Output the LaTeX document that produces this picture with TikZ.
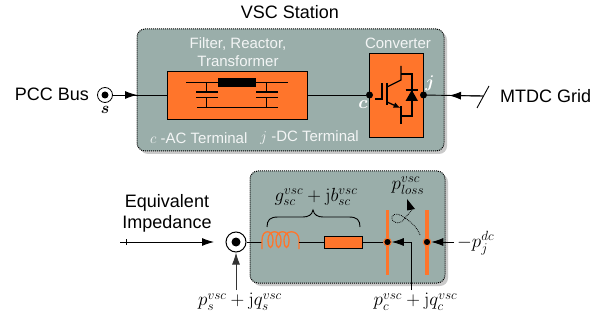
\RequirePackage{fix-cm}
\documentclass[tikz,border=0pt]{standalone}
\usepackage[no-math]{fontspec}
\setmainfont{Liberation Sans}
\usepackage{amsmath}
\usetikzlibrary{arrows.meta,shadows,calc}
\definecolor{panel}{HTML}{9AAEAA}
\definecolor{orng}{HTML}{FF752B}
\tikzset{
  x=1pt,y=-1pt,
  panelbox/.style={draw=black,densely dotted,line width=1pt,fill=panel,rounded corners=8pt,
    drop shadow={shadow xshift=3pt,shadow yshift=-3pt,opacity=.35,fill=black!60},inner sep=0},
  orangebox/.style={draw=black,line width=.9pt,fill=orng,inner sep=0},
  wire/.style={line width=.9pt,black},
  thick wire/.style={line width=1.3pt,black},
  arr/.style={-{Latex[length=12pt,width=8pt]},line width=.9pt},
  lab/.style={font=\fontsize{18}{21}\selectfont,text=black,inner sep=0,align=center},
  wlab/.style={font=\fontsize{15}{18}\selectfont,text=white!88!panel,inner sep=0,align=center},
  mathlab/.style={font=\fontsize{19}{21}\selectfont,inner sep=0},
  dotn/.style={circle,fill=black,inner sep=0,minimum size=7pt},
  busnode/.style={circle,fill=black,draw=orng,line width=1pt,inner sep=0,minimum size=7.5pt},
  busbar/.style={inner sep=0,minimum width=3.5pt,minimum height=65pt,fill=orng},
}
\begin{document}
\begin{tikzpicture}
\useasboundingbox (0,0) rectangle (612,320);
% top panel
\node[panelbox,minimum width=307pt,minimum height=122pt] (top) at (290.5,90) {};
\node[lab] (title) at (290,12) {VSC Station};
\node[orangebox,minimum width=140pt,minimum height=48pt] (filter) at (237.5,95) {};
\node[orangebox,minimum width=54pt,minimum height=84pt] (conv) at (396.5,95) {};
\node[wlab] (filtertxt) at (238,52) {Filter, Reactor,\\Transformer};
\node[wlab] (convtxt) at (398,43) {Converter};
\node[wlab,anchor=west] (termc) at (150,138) {$c$ -AC Terminal};
\node[wlab,anchor=west] (termj) at (260,138) {$j$ -DC Terminal};
% filter innards
\coordinate (fa) at (186,82.5); \coordinate (fb) at (288,82.5);
\draw[wire] (fa) -- (fb);
\node[fill=black,minimum width=38pt,minimum height=8.5pt,inner sep=0] (res) at (237,82.5) {};
\draw[wire] (206.7,82.5) -- (206.7,92) (206.7,98) -- (206.7,107.5);
\draw[wire] (266.7,82.5) -- (266.7,92) (266.7,98) -- (266.7,107.5);
\draw[thick wire] (196,92) -- (217.5,92) (196,97.8) -- (217.5,97.8);
\draw[thick wire] (256,92) -- (278,92) (256,97.8) -- (278,97.8);
\draw[wire] (197,107.7) -- (278,107.7);
% converter innards (IGBT + diode)
\draw[thick wire] (375,99) -- (382,99) -- (382,83) (387,83) -- (387,105);
\draw[thick wire] (387,87) -- (401,80) -- (401,66);
\draw[thick wire,-{Latex[length=7pt,width=6pt]}] (387,102) -- (400.5,108);
\draw[thick wire] (401,74) -- (412,74) -- (412,116) -- (401,116);
\draw[thick wire] (401,106) -- (401,124);
\draw[thick wire] (405.5,90) -- (418,90);
\fill (411.8,90) -- (405.5,101) -- (418,101) -- cycle;
% connectors top
\node[circle,draw=black,line width=.8pt,fill=white,minimum size=15pt,inner sep=0] (s) at (105,95) {};
\node[dotn] at (s) {};
\node[lab,anchor=east] (pcc) at (89,94) {PCC Bus};
\node[inner sep=0,font=\fontsize{16}{16}\selectfont] (slab) at (105,110) {$\boldsymbol{s}$};
\node[dotn] (cn) at (369.5,95) {};
\node[dotn] (jn) at (423.5,95) {};
\node[inner sep=0,font=\fontsize{18}{18}\selectfont,text=white] (cl) at (363,105) {$\boldsymbol{c}$};
\node[inner sep=0,font=\fontsize{17}{17}\selectfont,text=white] (jl) at (430,83) {$\boldsymbol{j}$};
\coordinate (sa) at (137,95);
\draw[wire] (s) -- (filter.west);
\draw[arr] (s) -- (sa);
\draw[wire] (filter.east) -- (cn);
\coordinate (slashtop) at (489,86); \coordinate (slashbot) at (477,108);
\coordinate (gridj) at (483,96);
\draw[wire] (slashtop) -- (slashbot);
\draw[wire] (jn) -- (gridj);
\draw[arr] (gridj) -- (449,95.5);
\node[lab,anchor=west] (mtdc) at (500,96) {MTDC Grid};
% bottom panel
\node[panelbox,minimum width=195pt,minimum height=112pt] (bot) at (347.5,227) {};
\node[lab] (eq) at (167,213.5) {Equivalent\\Impedance};
\node[circle,draw=black,line width=1pt,fill=white,minimum size=20pt,inner sep=0] (b) at (236,242) {};
\node[circle,fill=black,inner sep=0,minimum size=9pt] at (b) {};
\coordinate (in0) at (120,242);
\draw[line width=.8pt] (126,239) -- (126,245);
\draw[arr] (in0) -- (214,242);
% inductor
\draw[wire] (b) -- (262,242);
\draw[orng,line width=1.3pt] (262,249) -- (262,240) .. controls (262,229) and (273,229) .. (273,240) .. controls (273,250) and (268,250) .. (268,240)
  .. controls (268,229) and (281,229) .. (281,240) .. controls (281,250) and (276,250) .. (276,240)
  .. controls (276,229) and (289,229) .. (289,240) .. controls (289,250) and (284,250) .. (284,240)
  .. controls (284,229) and (299,229) .. (299,240) -- (299,249);
\node[draw=black,line width=.9pt,fill=orng,minimum width=38pt,minimum height=12pt,inner sep=0] (rb) at (343,242) {};
\draw[wire] (299,242) -- (rb.west);
% bars
\node[busbar] (bar1) at (387.5,242.5) {};
\node[busbar] (bar2) at (427,242.5) {};
\node[busnode] (n1) at (387.5,242) {};
\node[busnode] (n2) at (427,242) {};
\draw[wire] (rb.east) -- (n1);
% brace
\draw[line width=.9pt] (267,227) .. controls (267,220) and (270,217) .. (278,217) -- (303,217)
  .. controls (308,217) and (312,215) .. (313,210) .. controls (314,215) and (318,217) .. (323,217) -- (349,217)
  .. controls (357,217) and (360,220) .. (360,227);
\node[mathlab] (g) at (316,197) {$g_{sc}^{vsc}+\mathrm{j}b_{sc}^{vsc}$};
% loss
\node[mathlab] (ploss) at (408,186) {$p_{loss}^{vsc}$};
\draw[line width=.8pt,densely dotted] (420,235) .. controls (417,227) and (411,222) .. (405,218)
 .. controls (400,214) and (394,212) .. (392,217) .. controls (391,224) and (401,225) .. (405,218)
 .. controls (408,214) and (411,212) .. (413,208);
\fill (407,199) -- (415,209) -- (407,210.5) -- cycle;
% arrows bottom
\node[mathlab] (ps) at (240,302) {$p_{s}^{vsc}+\mathrm{j}q_{s}^{vsc}$};
\coordinate (psup) at (236,290);
\draw[arr,line width=1pt,black!80] (psup) -- (b);
\node[mathlab] (pc) at (415.5,302) {$p_{c}^{vsc}+\mathrm{j}q_{c}^{vsc}$};
\coordinate (pcup) at (411.7,290); \coordinate (pcc) at (411.7,242);
\draw[wire] (pcup) -- (pcc);
\draw[arr] (pcc) -- (n1);
\node[mathlab,anchor=west] (pj) at (457,243) {$-p_{j}^{dc}$};
\coordinate (pjin) at (454,242);
\draw[arr] (pjin) -- (n2);
\end{tikzpicture}
\end{document}
